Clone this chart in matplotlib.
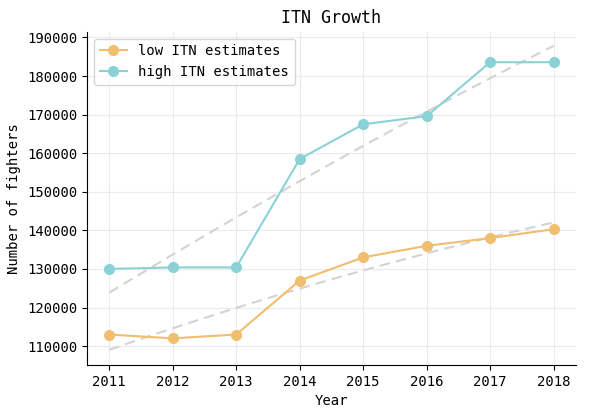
import numpy as np
import matplotlib
matplotlib.use("Agg")
import matplotlib.pyplot as plt

plt.rcParams['font.family'] = ['DejaVu Sans Mono']

years = [2011, 2012, 2013, 2014, 2015, 2016, 2017, 2018]
low_itn = [113000, 112000, 113000, 127000, 133000, 136000, 138000, 140300]
high_itn = [130000, 130400, 130400, 158500, 167500, 169600, 183600, 183600]

low_color = '#f0be6e'
high_color = '#8ad2d6'
trend_color = '#d3d3d3'

fig = plt.figure(figsize=(5.9, 4.15), dpi=100)
ax = fig.add_axes([0.1475, 0.1205, 0.8285, 0.8031])

x = np.array(years, dtype=float)
for vals in (high_itn, low_itn):
    coef = np.polyfit(x - x[0], np.array(vals, dtype=float), 2)
    xs = np.linspace(x[0], x[-1], 100)
    ax.plot(xs, np.polyval(coef, xs - x[0]), ls='--', color=trend_color, lw=1.5, zorder=2, dashes=(5, 3))

ax.plot(years, low_itn, marker='o', ms=7, lw=1.5, color=low_color, label='low ITN estimates', zorder=3)
ax.plot(years, high_itn, marker='o', ms=7, lw=1.5, color=high_color, label='high ITN estimates', zorder=3)

ax.set_xticks(years)
ax.set_xlim(2010.65, 2018.35)
ax.set_ylim(105100, 191500)
ax.set_yticks(range(110000, 190001, 10000))
ax.grid(True, color='#ebebeb', lw=0.8, zorder=0)
ax.set_axisbelow(True)
for s in ('top', 'right'):
    ax.spines[s].set_visible(False)
ax.tick_params(labelsize=10)
ax.set_title('ITN Growth', fontsize=12)
ax.set_xlabel('Year', fontsize=10)
ax.set_ylabel('Number of fighters', fontsize=10)
ax.legend(loc='upper left', fontsize=10)

fig.savefig('out.png', dpi=100)
